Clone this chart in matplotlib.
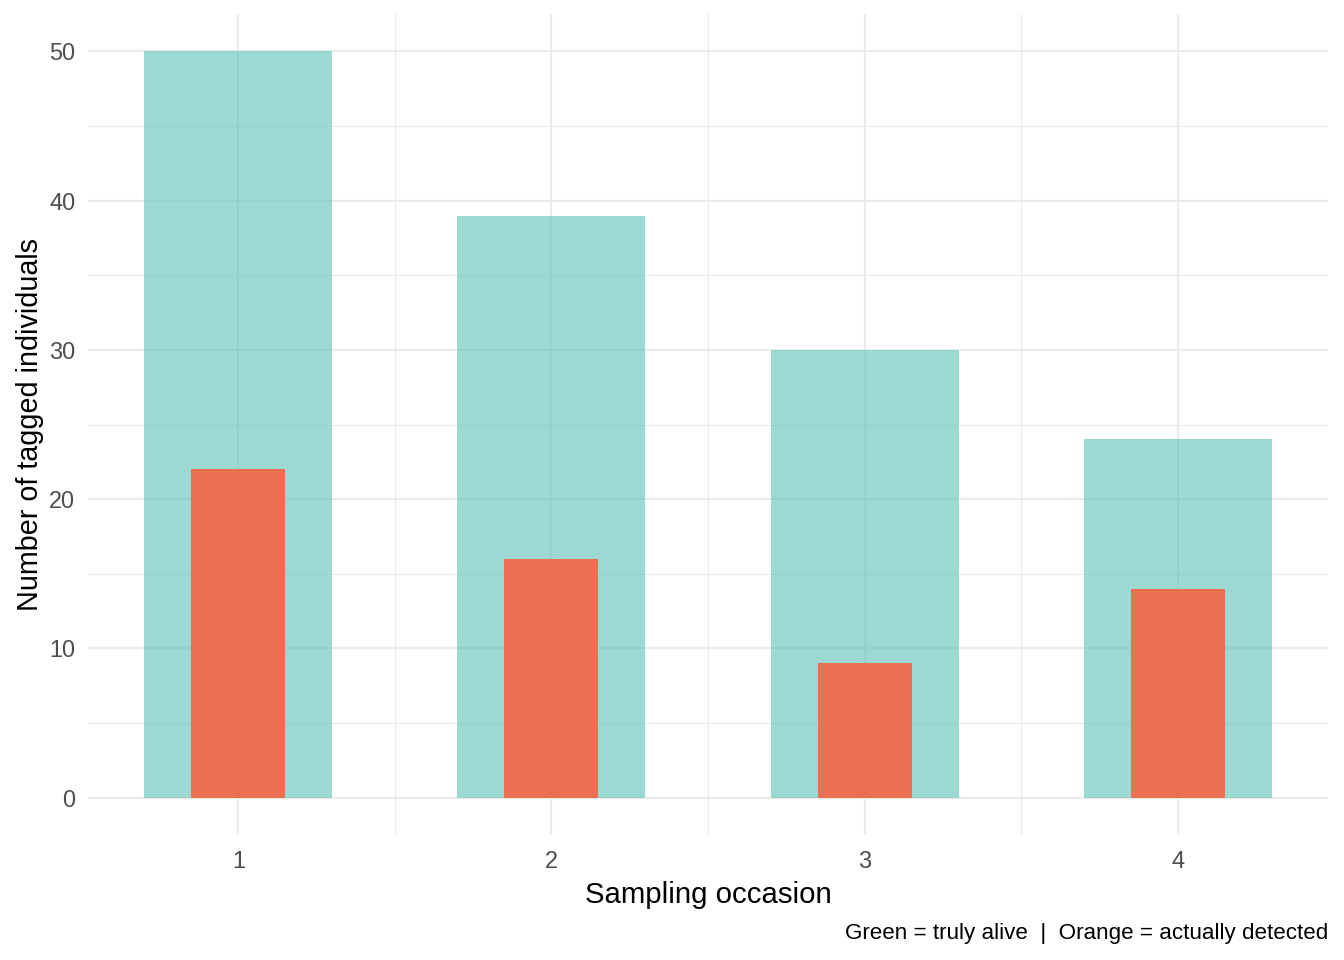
import matplotlib
matplotlib.use("Agg")
import matplotlib.pyplot as plt
from matplotlib.ticker import MultipleLocator

occasions = [1, 2, 3, 4]
truly_alive = [50, 39, 30, 24]
detected = [22, 16, 9, 14]
x_ticks = [1, 2, 3, 4]
y_ticks = [0, 10, 20, 30, 40, 50]

plt.rcParams['font.family'] = ['Liberation Sans', 'DejaVu Sans']

fig = plt.figure(figsize=(7, 5), dpi=192)
ax = fig.add_axes([88/1344, 1 - 835/960, (1328-88)/1344, (835-14)/960])

ax.bar(occasions, truly_alive, width=0.6, color='#5AC1B4', alpha=0.6, zorder=3, linewidth=0)
ax.bar(occasions, detected, width=0.3, color='#F46444', alpha=0.9, zorder=4, linewidth=0)

ax.set_xlim(0.52, 4.48)
ax.set_ylim(-2.5, 52.5)
ax.set_xticks(x_ticks)
ax.set_xticklabels([str(v) for v in x_ticks])
ax.set_yticks(y_ticks)
ax.xaxis.set_minor_locator(MultipleLocator(0.5))
ax.yaxis.set_minor_locator(MultipleLocator(5))

ax.grid(which='major', color='#EBEBEB', linewidth=0.8, zorder=0)
ax.grid(which='minor', color='#EBEBEB', linewidth=0.4, zorder=0)
ax.set_axisbelow(True)
for s in ax.spines.values():
    s.set_visible(False)
ax.tick_params(which='both', length=0)
ax.tick_params(axis='y', labelsize=8.8, labelcolor='#4D4D4D', pad=4.8)
ax.tick_params(axis='x', labelsize=8.8, labelcolor='#4D4D4D', pad=5.5)

ax.set_xlabel('Sampling occasion', fontsize=11, color='black', labelpad=3)
ax.set_ylabel('Number of tagged individuals', fontsize=10.8, color='black', labelpad=2)

fig.text(1328/1344, 1 - 934/960, 'Green = truly alive  |  Orange = actually detected',
         ha='right', va='center', fontsize=8.4, color='black')

fig.savefig('out.png', dpi=192)
